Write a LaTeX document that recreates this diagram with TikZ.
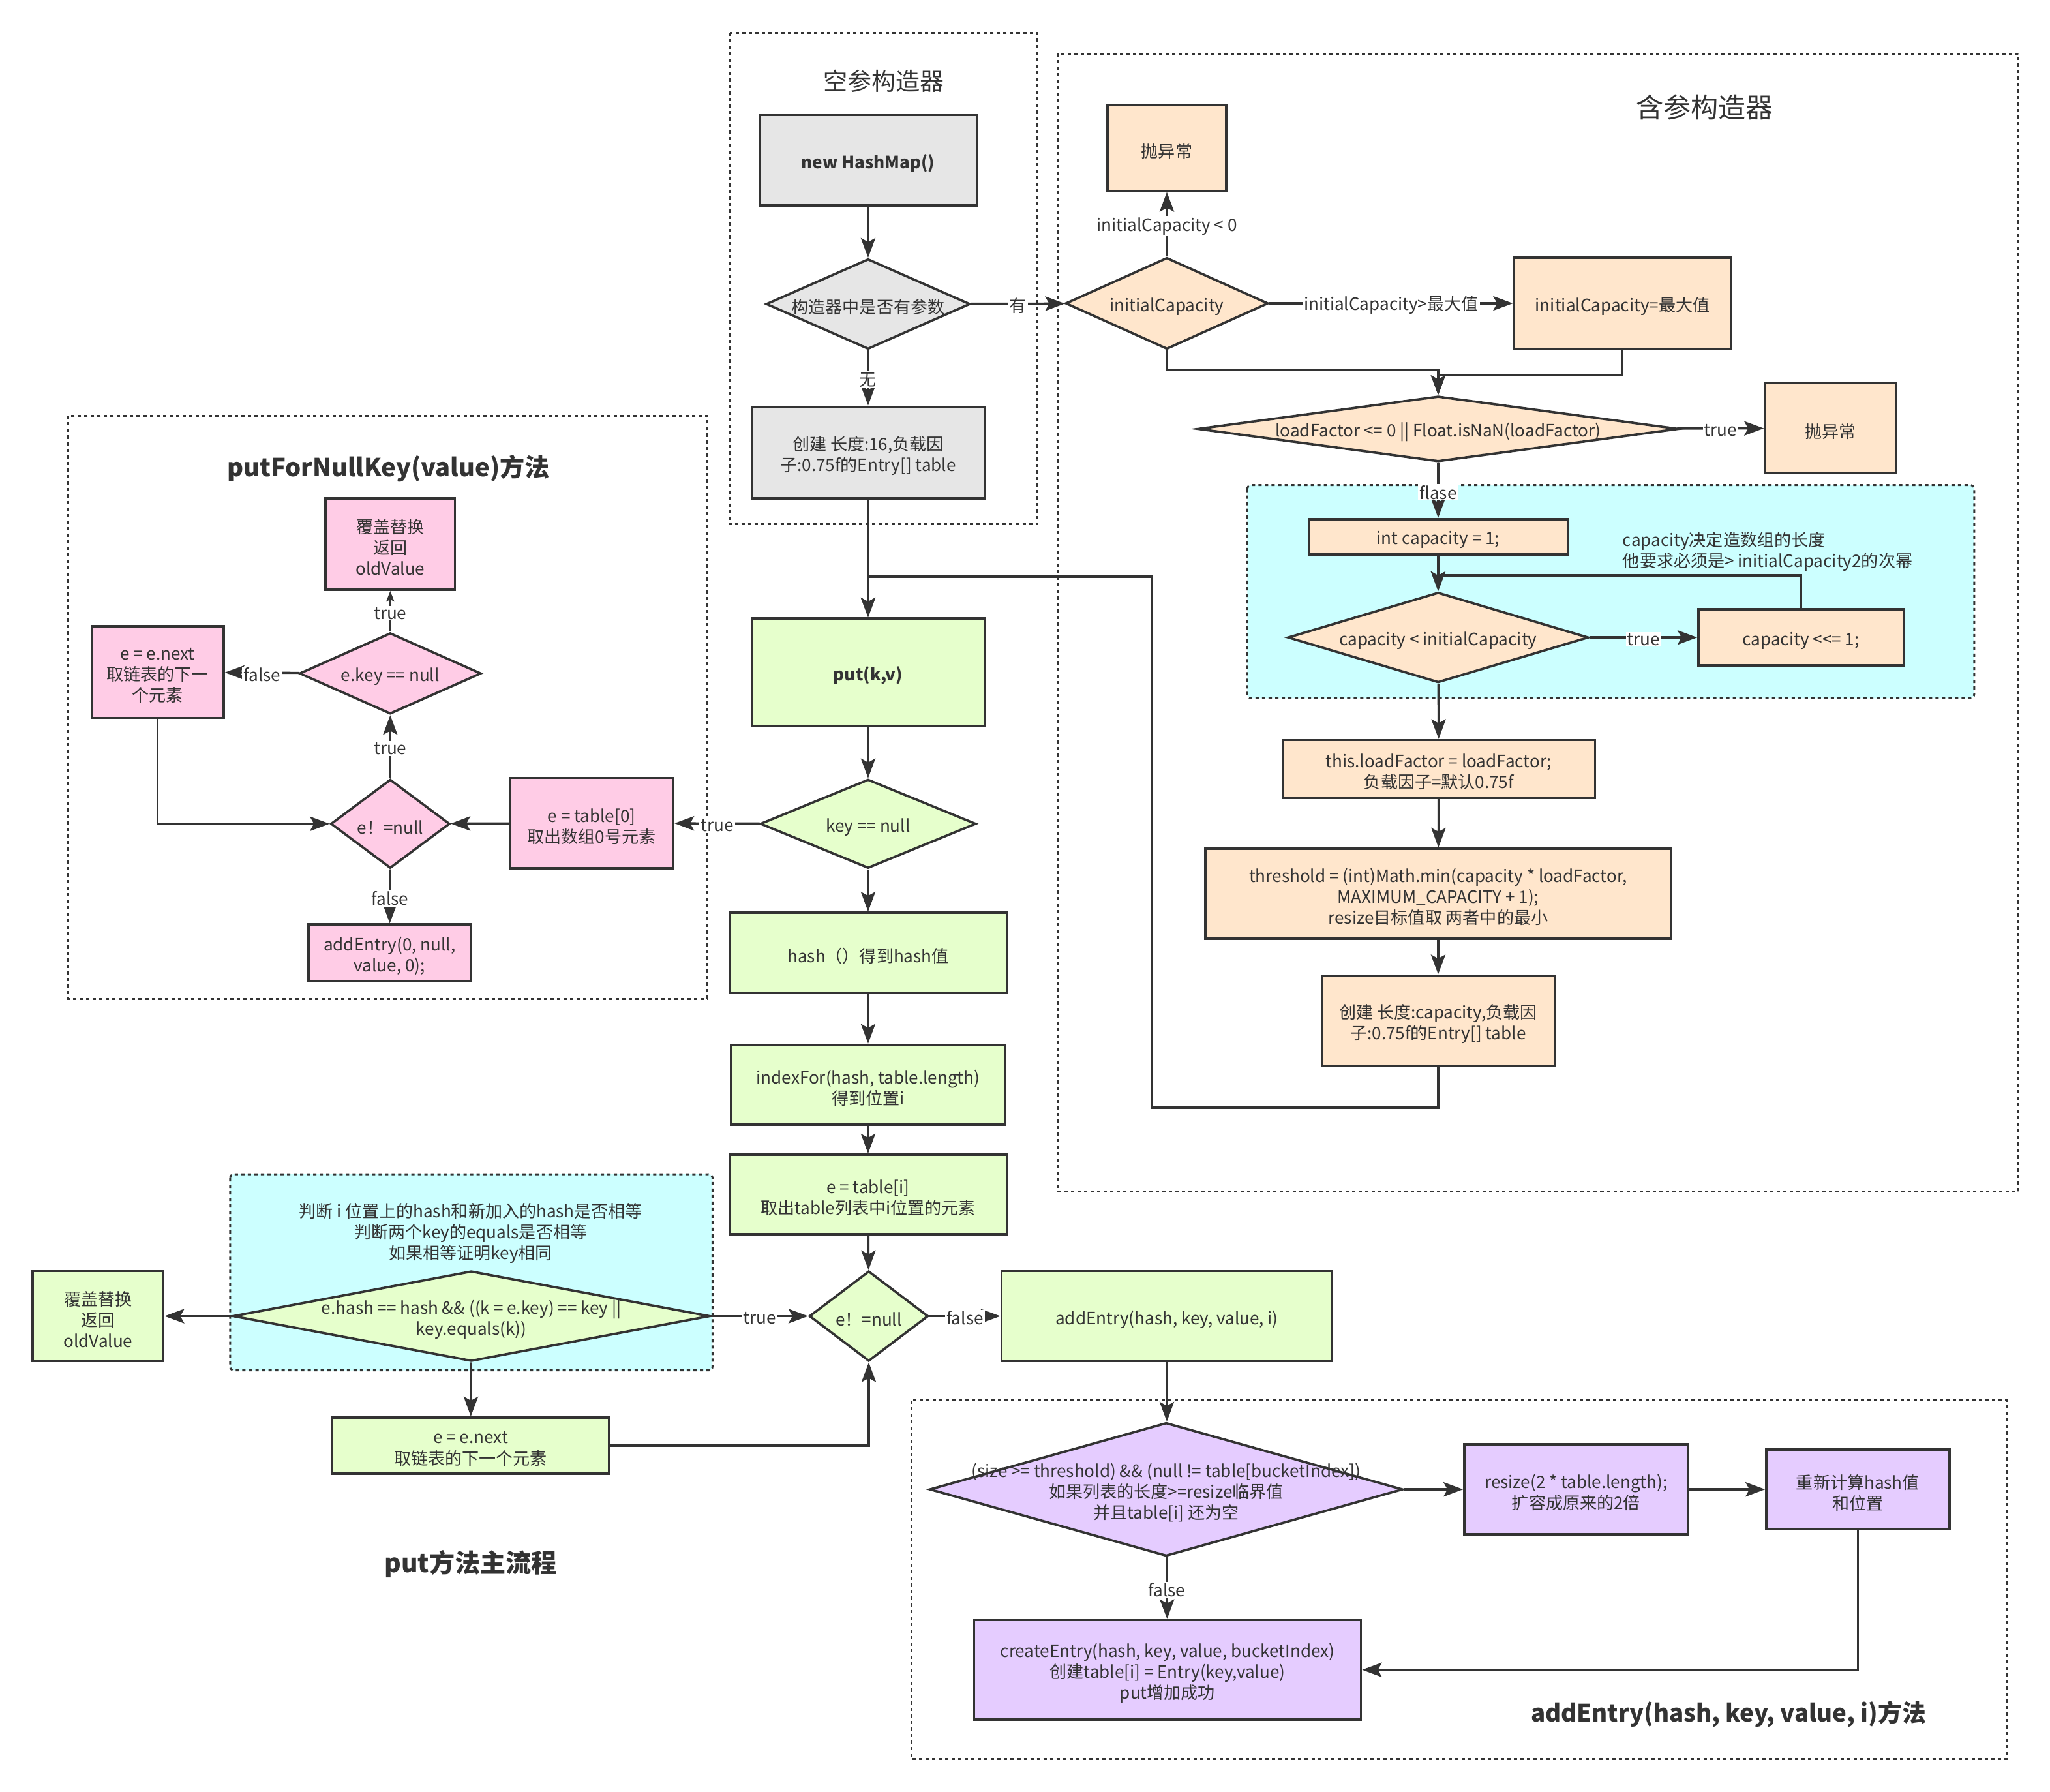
\documentclass[tikz,border=0pt]{standalone}
\usepackage{fontspec}
\setmainfont{Noto Sans CJK SC}
\usetikzlibrary{shapes.geometric,arrows.meta}
\definecolor{lc}{HTML}{333333}
\definecolor{cgray}{HTML}{E6E6E6}
\definecolor{corange}{HTML}{FFE6CC}
\definecolor{cgreen}{HTML}{E6FFCC}
\definecolor{cpink}{HTML}{FFCCE6}
\definecolor{cpurple}{HTML}{E5CCFF}
\definecolor{ccyan}{HTML}{CCFFFF}
\newcommand{\fs}{\fontsize{13}{16}\selectfont}
\begin{document}
\begin{tikzpicture}[x=1pt,y=-1pt,
  box/.style={draw=lc, line width=1.8pt, rectangle, inner sep=0pt},
  dia/.style={draw=lc, line width=1.8pt, diamond, inner sep=0pt},
  btext/.style={align=center, font=\fs, text=lc, inner sep=0pt, yshift=-2.5pt},
  arr/.style={draw=lc, line width=1.7pt, -{Stealth[length=15pt,width=11pt,inset=3pt]}},
  sarr/.style={draw=lc, line width=1.7pt, -{Stealth[length=8pt,width=6pt,inset=1.5pt]}},
  lbl/.style={fill=white, inner sep=1pt, font=\fs, text=lc, yshift=-1.5pt},
  grp/.style={draw=lc, line width=1.5pt, dash pattern=on 2.5pt off 2.5pt},
  ttl/.style={text=lc, inner sep=0pt}
]
\useasboundingbox (0,0) rectangle (1568,1370.43);

% ---------- groups ----------
\draw[grp] (558,25) rectangle (793,401);
\draw[grp] (809,41) rectangle (1544,911);
\draw[grp] (52,318) rectangle (541,764);
\draw[grp, fill=ccyan, rounded corners=3pt] (954,371) rectangle (1510,534);
\draw[grp, fill=ccyan, rounded corners=3pt] (176,898) rectangle (545,1048);
\draw[grp] (697,1071) rectangle (1535,1345);

% ---------- titles ----------
\node[ttl, font=\fontsize{18.5}{22}\selectfont] (t1) at (676,62) {空参构造器};
\node[ttl, font=\fontsize{21}{25}\selectfont] (t2) at (1304,82) {含参构造器};
\node[ttl, font=\fontsize{19}{23}\selectfont\bfseries] (t3) at (297,358) {putForNullKey(value)方法};
\node[ttl, font=\fontsize{19.5}{23}\selectfont\bfseries] (t4) at (360,1196) {put方法主流程};
\node[ttl, font=\fontsize{18.3}{22}\selectfont\bfseries] (t5) at (1322,1311) {addEntry(hash, key, value, i)方法};

% ---------- gray ----------
\node[box, fill=cgray, minimum width=166pt, minimum height=69pt, label={[btext,font=\fs\bfseries]center:{new HashMap()}}] (nhm) at (664,122.5) {};
\node[dia, fill=cgray, minimum width=156pt, minimum height=69pt, label={[btext]center:{构造器中是否有参数}}] (d1) at (664,232.5) {};
\node[box, fill=cgray, minimum width=178pt, minimum height=70pt, label={[btext]center:{创建 长度:16,负载因\\子:0.75f的Entry[] table}}] (c16) at (664,346) {};

% ---------- orange ----------
\node[box, fill=corange, minimum width=91pt, minimum height=66pt, label={[btext]center:{抛异常}}] (exc1) at (892.5,113) {};
\node[dia, fill=corange, minimum width=155pt, minimum height=70pt, label={[btext]center:{initialCapacity}}] (dic) at (892.5,232) {};
\node[box, fill=corange, minimum width=166pt, minimum height=70pt, label={[btext]center:{initialCapacity=最大值}}] (icmax) at (1241,232) {};
\node[dia, fill=corange, minimum width=368pt, minimum height=50pt, label={[btext]center:{loadFactor <= 0 || Float.isNaN(loadFactor)}}] (dlf) at (1100,328) {};
\node[box, fill=corange, minimum width=100pt, minimum height=69pt, label={[btext]center:{抛异常}}] (exc2) at (1400,327.5) {};
\node[box, fill=corange, minimum width=198pt, minimum height=27pt, label={[btext]center:{int capacity = 1;}}] (ic1) at (1100,410.5) {};
\node[dia, fill=corange, minimum width=230pt, minimum height=69pt, label={[btext]center:{capacity < initialCapacity}}] (dcap) at (1100,487.5) {};
\node[box, fill=corange, minimum width=157pt, minimum height=43pt, label={[btext]center:{capacity <{}<= 1;}}] (shl) at (1377.5,487.5) {};
\node[ttl, align=left, font=\fs, anchor=west] (note1) at (1241,422) {capacity决定造数组的长度\\他要求必须是> initialCapacity2的次幂};
\node[box, fill=corange, minimum width=239pt, minimum height=44pt, label={[btext]center:{this.loadFactor = loadFactor;\\负载因子=默认0.75f}}] (tlf) at (1100.5,588) {};
\node[box, fill=corange, minimum width=356pt, minimum height=69pt, label={[btext]center:{threshold = (int)Math.min(capacity * loadFactor,\\MAXIMUM\_CAPACITY + 1);\\resize目标值取 两者中的最小}}] (thr) at (1100,683.5) {};
\node[box, fill=corange, minimum width=178pt, minimum height=69pt, label={[btext]center:{创建 长度:capacity,负载因\\子:0.75f的Entry[] table}}] (ccap) at (1100,780.5) {};

% ---------- green ----------
\node[box, fill=cgreen, minimum width=178pt, minimum height=82pt, label={[btext,font=\fs\bfseries]center:{put(k,v)}}] (put) at (664,514) {};
\node[dia, fill=cgreen, minimum width=165pt, minimum height=68pt, label={[btext]center:{key == null}}] (dkn) at (664,630) {};
\node[box, fill=cgreen, minimum width=212pt, minimum height=61pt, label={[btext]center:{hash（）得到hash值}}] (hash) at (664,728.5) {};
\node[box, fill=cgreen, minimum width=210pt, minimum height=61pt, label={[btext]center:{indexFor(hash, table.length)\\得到位置i}}] (idx) at (664,829.5) {};
\node[box, fill=cgreen, minimum width=212pt, minimum height=61pt, label={[btext]center:{e = table[i]\\取出table列表中i位置的元素}}] (eti) at (664,913.5) {};
\node[dia, fill=cgreen, minimum width=91pt, minimum height=69pt, label={[btext]center:{e！=null}}] (den) at (664.5,1006.5) {};
\node[box, fill=cgreen, minimum width=253pt, minimum height=69pt, label={[btext]center:{addEntry(hash, key, value, i)}}] (add) at (892.5,1006.5) {};
\node[ttl, align=center, font=\fs] (note2) at (360,943) {判断 i 位置上的hash和新加入的hash是否相等\\判断两个key的equals是否相等\\如果相等证明key相同};
\node[dia, fill=cgreen, minimum width=365pt, minimum height=69pt, label={[btext]center:{e.hash == hash \&\& ((k = e.key) == key ||\\key.equals(k))}}] (deh) at (360.5,1006.5) {};
\node[box, fill=cgreen, minimum width=100pt, minimum height=69pt, label={[btext]center:{覆盖替换\\返回\\oldValue}}] (ovg) at (75,1006.5) {};
\node[box, fill=cgreen, minimum width=212pt, minimum height=43pt, label={[btext]center:{e = e.next\\取链表的下一个元素}}] (enx) at (360,1105.5) {};

% ---------- pink ----------
\node[box, fill=cpink, minimum width=99pt, minimum height=70pt, label={[btext]center:{覆盖替换\\返回\\oldValue}}] (ovp) at (298.5,416) {};
\node[dia, fill=cpink, minimum width=139pt, minimum height=62pt, label={[btext]center:{e.key == null}}] (dek) at (298.5,515) {};
\node[box, fill=cpink, minimum width=101pt, minimum height=70pt, label={[btext]center:{e = e.next\\取链表的下一\\个元素}}] (enp) at (120.5,514) {};
\node[dia, fill=cpink, minimum width=91pt, minimum height=68pt, label={[btext]center:{e！=null}}] (dep) at (298.5,630) {};
\node[box, fill=cpink, minimum width=125pt, minimum height=69pt, label={[btext]center:{e = table[0]\\取出数组0号元素}}] (et0) at (452.5,629.5) {};
\node[box, fill=cpink, minimum width=124pt, minimum height=43pt, label={[btext]center:{addEntry(0, null,\\value, 0);}}] (ae0) at (298,728.5) {};

% ---------- purple ----------
\node[dia, fill=cpurple, minimum width=362pt, minimum height=102pt, label={[btext]center:{(size >= threshold) \&\& (null != table[bucketIndex])\\如果列表的长度>=resize临界值\\并且table[i] 还为空}}] (dsz) at (892,1139) {};
\node[box, fill=cpurple, minimum width=171pt, minimum height=69pt, label={[btext]center:{resize(2 * table.length);\\扩容成原来的2倍}}] (rsz) at (1205.5,1139) {};
\node[box, fill=cpurple, minimum width=140pt, minimum height=61pt, label={[btext]center:{重新计算hash值\\和位置}}] (rec) at (1421,1139) {};
\node[box, fill=cpurple, minimum width=296pt, minimum height=76pt, label={[btext]center:{createEntry(hash, key, value, bucketIndex)\\创建table[i] = Entry(key,value)\\put增加成功}}] (cre) at (893,1277) {};

% ---------- connectors: constructors ----------
\draw[arr] (nhm) -- (d1);
\draw[arr] (d1) -- node[lbl]{无} (c16);
\draw[arr] (d1) -- node[lbl]{有} (dic);
\draw[arr] (dic) -- node[lbl]{initialCapacity < 0} (exc1);
\draw[arr] (dic) -- node[lbl]{initialCapacity>最大值} (icmax);
\draw[arr] (dic.south) -- ++(0,15) -| (dlf.north);
\draw[arr] (icmax.south) -- ++(0,19) -| (dlf.north);
\draw[arr] (dlf) -- node[lbl]{true} (exc2);
\draw[arr] (dlf) -- node[lbl]{flase} (ic1);
\draw[arr] (ic1) -- (dcap);
\draw[arr] (dcap) -- node[lbl]{true} (shl);
\draw[arr] (shl.north) |- (1100,440) -- (dcap.north);
\draw[arr] (dcap) -- (tlf);
\draw[arr] (tlf) -- (thr);
\draw[arr] (thr) -- (ccap);
\draw[arr] (ccap.south) -- (1100,847) -- (881,847) -- (881,441) -- (664,441) -- (put.north);
\draw[arr] (c16) -- (put);

% ---------- connectors: put main ----------
\draw[arr] (put) -- (dkn);
\draw[arr] (dkn) -- node[lbl]{true} (et0);
\draw[arr] (dkn) -- (hash);
\draw[arr] (hash) -- (idx);
\draw[arr] (idx) -- (eti);
\draw[arr] (eti) -- (den);
\draw[arr] (den) -- node[lbl]{false} (add);
\draw[arr] (deh) -- node[lbl]{true} (den);
\draw[arr] (deh) -- (ovg);
\draw[arr] (deh) -- (enx);
\draw[arr] (enx.east) -| (den.south);

% ---------- connectors: addEntry ----------
\draw[arr] (add) -- (add.south |- dsz.north);
\draw[arr] (dsz) -- (rsz);
\draw[arr] (rsz) -- (rec);
\draw[arr] (rec.south) |- (cre.east);
\draw[arr] (dsz) -- node[lbl]{false} (cre);

% ---------- connectors: putForNullKey ----------
\draw[arr] (et0) -- (dep);
\draw[arr] (dep) -- node[lbl]{true} (dek);
\draw[sarr] (dek) -- node[lbl]{true} (ovp);
\draw[arr] (dek) -- node[lbl]{false} (enp);
\draw[arr] (enp.south) |- (dep.west);
\draw[arr] (dep) -- node[lbl]{false} (ae0);
\end{tikzpicture}
\end{document}
